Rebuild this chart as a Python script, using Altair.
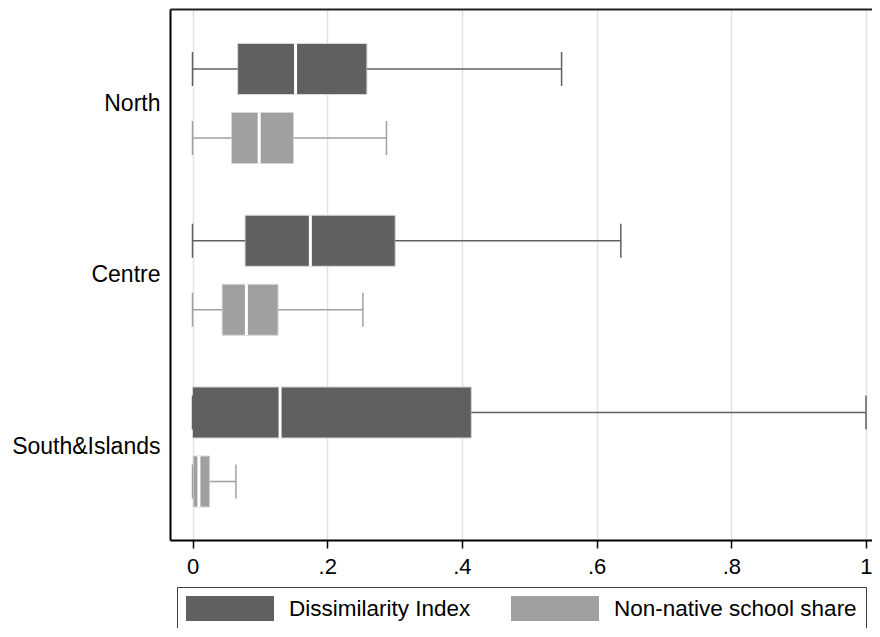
import altair as alt
import pandas as pd

regions = ["North", "Centre", "South&Islands"]
series = ["Dissimilarity Index", "Non-native school share"]

di_lo = [0.0, 0.0, 0.0]
di_q1 = [0.067, 0.078, 0.0]
di_med = [0.153, 0.175, 0.130]
di_q3 = [0.259, 0.301, 0.414]
di_hi = [0.548, 0.636, 1.0]

nn_lo = [0.0, 0.0, 0.0]
nn_q1 = [0.058, 0.044, 0.001]
nn_med = [0.099, 0.080, 0.0095]
nn_q3 = [0.150, 0.127, 0.0255]
nn_hi = [0.288, 0.253, 0.0645]

colors = ["#606060", "#a0a0a0"]
tick_values = [0, 0.2, 0.4, 0.6, 0.8, 1]

rows = []
for i, r in enumerate(regions):
    rows.append(dict(region=r, series=series[0], lo=di_lo[i], q1=di_q1[i],
                     med=di_med[i], q3=di_q3[i], hi=di_hi[i]))
    rows.append(dict(region=r, series=series[1], lo=nn_lo[i], q1=nn_q1[i],
                     med=nn_med[i], q3=nn_q3[i], hi=nn_hi[i]))
df = pd.DataFrame(rows)

FONT = "Liberation Sans"
xscale = alt.Scale(domain=[-0.03341, 1.00891], nice=False, zero=False)

bottom_axis = alt.Axis(
    title=None, values=tick_values,
    labelExpr="replace(format(datum.value, '.1~f'), '0.', '.')",
    labelFontSize=22, labelColor="black", labelFont=FONT, labelPadding=8,
    tickColor="black", tickWidth=1.5, tickSize=8,
    domainColor="black", domainWidth=2,
    grid=True, gridColor="#e2e2e2", gridWidth=1.5,
)
top_axis = alt.Axis(
    orient="top", title=None, labels=False, ticks=False, grid=False,
    domainColor="#202020", domainWidth=2,
)

base = alt.Chart(df).encode(
    y=alt.Y("region:N", sort=regions,
            scale=alt.Scale(paddingInner=0, paddingOuter=0.0459, align=0.548),
            axis=alt.Axis(title=None, ticks=False, labelPadding=10,
                          domainColor="black", domainWidth=2,
                          labelFontSize=23, labelColor="black", labelFont=FONT,
                          grid=False)),
    yOffset=alt.YOffset("series:N", sort=series,
                        scale=alt.Scale(paddingInner=0, paddingOuter=0.2445)),
    color=alt.Color("series:N", sort=series,
                    scale=alt.Scale(domain=series, range=colors),
                    legend=alt.Legend(
                        title=None, orient="none", legendX=7, legendY=578,
                        direction="horizontal",
                        symbolType="M-1,-1H6.04V1H-1Z", symbolSize=625,
                        symbolStrokeWidth=0, symbolOpacity=1,
                        labelFontSize=22.5, labelColor="black", labelFont=FONT,
                        labelLimit=500,
                        labelOffset=78, columnPadding=40, padding=9,
                        strokeColor="#404040", fillColor="white",
                    )),
)

box = base.mark_bar(size=51, stroke="#d6d6d6", strokeWidth=1, opacity=1).encode(
    x=alt.X("q1:Q", scale=xscale, axis=bottom_axis), x2="q3:Q")
wlo = base.mark_rule(strokeWidth=1.5).encode(
    x=alt.X("lo:Q", scale=xscale, axis=None), x2="q1:Q")
whi = base.mark_rule(strokeWidth=1.5).encode(
    x=alt.X("q3:Q", scale=xscale, axis=None), x2="hi:Q")
cap_lo = base.mark_tick(size=34, thickness=1.5, opacity=1).encode(
    x=alt.X("lo:Q", scale=xscale, axis=None))
cap_hi = base.mark_tick(size=34, thickness=1.5, opacity=1).encode(
    x=alt.X("hi:Q", scale=xscale, axis=None))
med = base.mark_tick(size=51, thickness=3, opacity=1).encode(
    x=alt.X("med:Q", scale=xscale, axis=None), color=alt.value("white"))
top = base.mark_rule(opacity=0).encode(
    x=alt.X("lo:Q", scale=xscale, axis=top_axis), x2="hi:Q")

chart = alt.layer(box, wlo, whi, cap_lo, cap_hi, med, top).resolve_axis(
    x="independent"
).properties(
    width=702, height=531,
    autosize=alt.AutoSizeParams(type="none"),
    padding={"left": 162, "top": 1, "right": 0, "bottom": 88},
).configure_view(stroke=None).configure(font=FONT)

chart.save("out.html", embed_options={"renderer": "svg", "actions": False})
